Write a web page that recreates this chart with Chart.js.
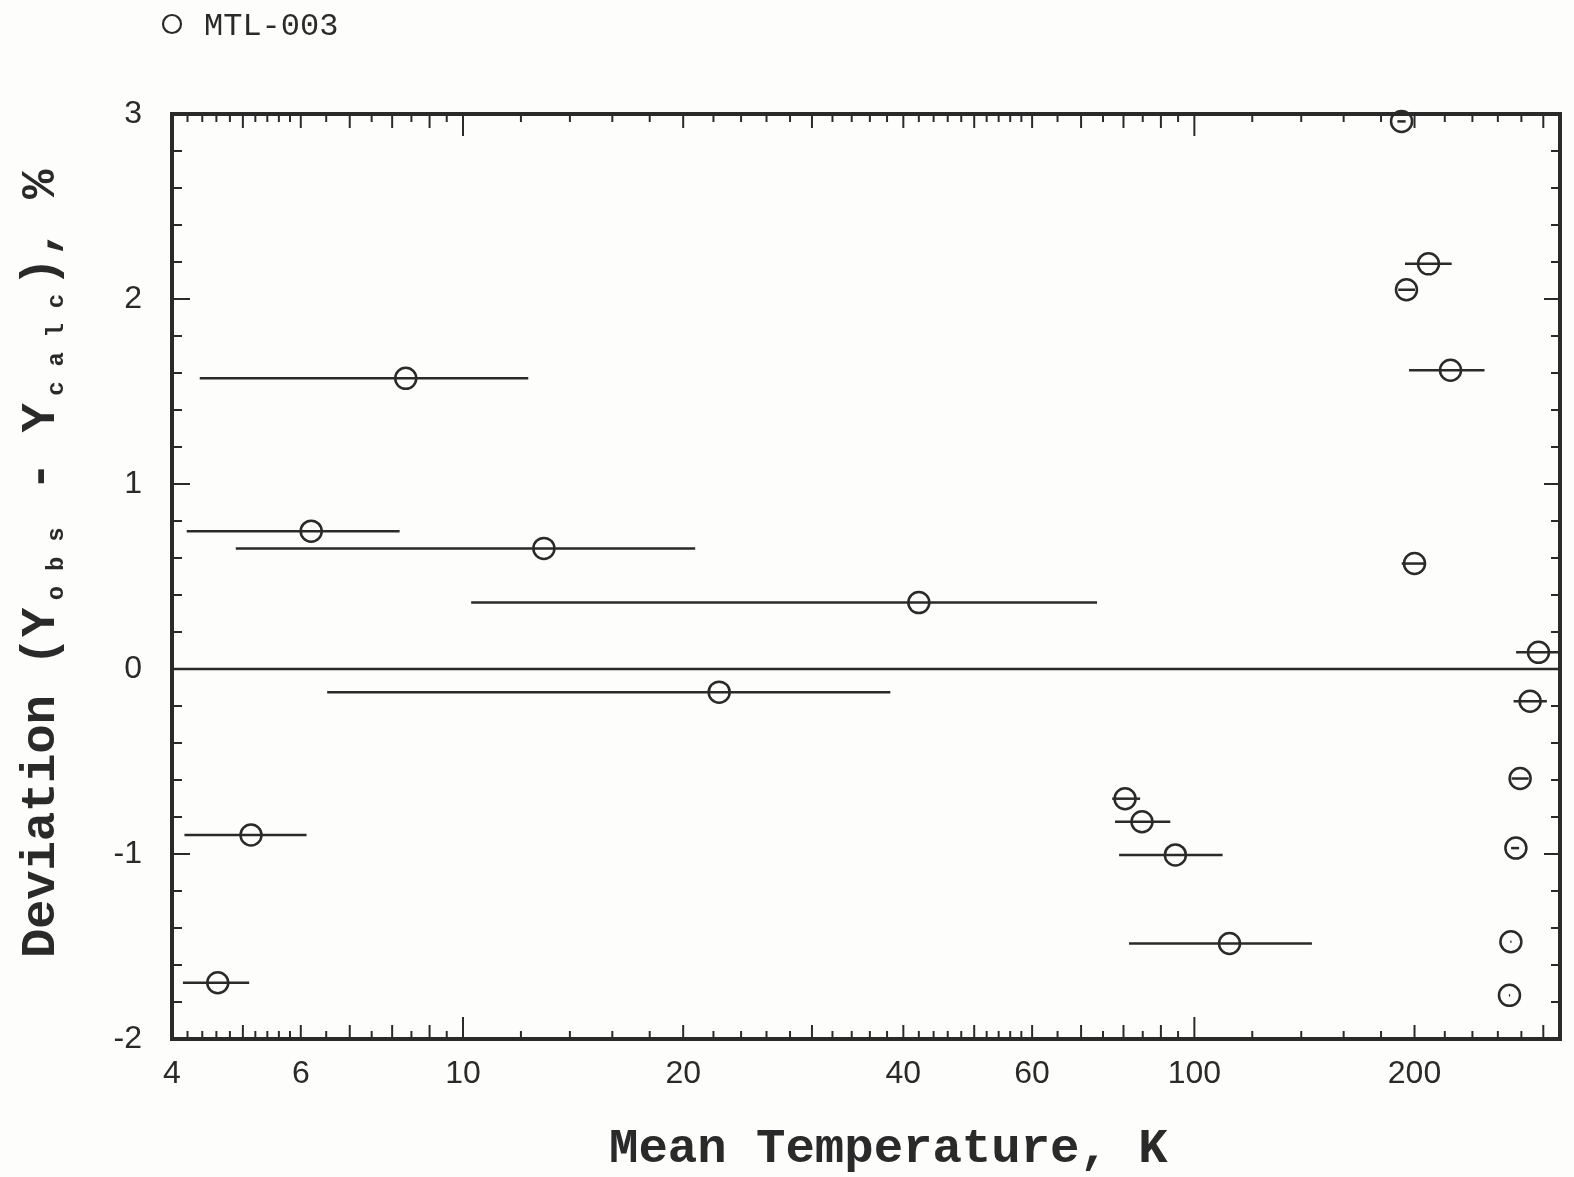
<!DOCTYPE html>
<html>
<head>
<meta charset="utf-8">
<script src="https://cdn.jsdelivr.net/npm/chart.js@4.4.0/dist/chart.umd.min.js"></script>
<style>
  html, body { margin: 0; padding: 0; background: #fdfdfb; }
  #wrap { width: 1574px; height: 1177px; }
</style>
</head>
<body>
<div id="wrap"><canvas id="myChart" width="1574" height="1177"></canvas></div>
<script>
// mean temperature of each run, K
var meanTemp  = [4.62, 5.13, 6.20, 8.35, 12.9, 22.4, 42.0, 80.4, 84.8, 94.2, 111.7,
                 192, 195, 209, 224, 200, 295.5, 287.8, 278.9, 275.2, 270.9, 269.7];
// temperature range of each run (low / high end), K
var tempLow   = [4.14, 4.16, 4.19, 4.365, 4.89, 6.52, 10.26, 77.2, 77.9, 78.9, 81.4,
                 189.5, 190.0, 194.1, 196.6, 192.1, 275.4, 273.2, 271.5, 271.1, 270.4, 269.2];
var tempHigh  = [5.10, 6.11, 8.19, 12.28, 20.77, 38.4, 73.6, 84.3, 92.7, 109.3, 144.8,
                 194.5, 200.3, 224.8, 249.3, 207.4, 330, 303.4, 286.5, 278.0, 271.4, 270.2];
// deviation (Yobs - Ycalc), %
var deviation = [-1.696, -0.897, 0.745, 1.571, 0.652, -0.125, 0.359, -0.701, -0.826, -1.005, -1.484,
                 2.96, 2.05, 2.19, 1.615, 0.57, 0.09, -0.174, -0.592, -0.968, -1.474, -1.764];

var xTickLabels = [4, 6, 10, 20, 40, 60, 100, 200];
var yTickLabels = [-2, -1, 0, 1, 2, 3];
var xMajorTicks = [10, 100];
var xMediumTicks = [5, 6, 7, 8, 9, 20, 30, 40, 50, 60, 70, 80, 90, 200, 300];
var xMinorTicks = [4.2, 4.4, 4.6, 4.8, 5.2, 5.4, 5.6, 5.8, 6.5, 7.5, 8.5, 9.5,
                   12, 14, 16, 18, 22, 24, 26, 28, 32, 34, 36, 38, 42, 44, 46, 48, 52, 54, 56, 58,
                   65, 75, 85, 95, 120, 140, 160, 180, 220, 240, 260, 280];

var ink = '#2a2a2a';

function line(ctx, x1, y1, x2, y2) {
    ctx.beginPath();
    ctx.moveTo(x1, y1);
    ctx.lineTo(x2, y2);
    ctx.stroke();
}

var framePlugin = {
    id: 'frame',
    beforeDatasetsDraw: function (chart) {
        var ctx = chart.ctx, a = chart.chartArea;
        var xs = chart.scales.x, ys = chart.scales.y;
        ctx.save();
        ctx.strokeStyle = ink;
        ctx.lineCap = 'butt';

        // zero line
        ctx.lineWidth = 2.5;
        var y0 = ys.getPixelForValue(0);
        line(ctx, a.left, y0, a.right, y0);

        // temperature range bars
        ctx.save();
        ctx.beginPath();
        ctx.rect(a.left, a.top, a.right - a.left, a.bottom - a.top);
        ctx.clip();
        ctx.lineWidth = 2.5;
        for (var i = 0; i < meanTemp.length; i++) {
            var yy = ys.getPixelForValue(deviation[i]);
            line(ctx, xs.getPixelForValue(tempLow[i]), yy, xs.getPixelForValue(tempHigh[i]), yy);
        }
        ctx.restore();

        // x ticks, top and bottom, pointing in
        ctx.lineWidth = 2;
        function xTicks(list, len) {
            list.forEach(function (v) {
                var px = xs.getPixelForValue(v);
                line(ctx, px, a.bottom, px, a.bottom - len);
                line(ctx, px, a.top, px, a.top + len);
            });
        }
        xTicks(xMinorTicks, 8);
        xTicks(xMediumTicks, 14);
        xTicks(xMajorTicks, 22);

        // y ticks every 0.2, left and right
        for (var k = -9; k < 15; k++) {
            var v = -2 + (k + 10) * 0.2;
            if (v <= -1.99 || v >= 2.99) continue;
            var py = ys.getPixelForValue(v);
            var major = Math.abs(v - Math.round(v)) < 0.01;
            line(ctx, a.left, py, a.left + (major ? 18 : 10), py);
            line(ctx, a.right, py, a.right - (major ? 16 : 9), py);
        }

        // frame
        ctx.lineWidth = 4;
        ctx.strokeRect(a.left, a.top, a.right - a.left, a.bottom - a.top);
        ctx.restore();
    },
    afterDraw: function (chart) {
        var ctx = chart.ctx;
        ctx.save();
        ctx.fillStyle = ink;
        ctx.strokeStyle = ink;

        // legend
        ctx.lineWidth = 2.2;
        ctx.beginPath();
        ctx.arc(172, 24, 9, 0, Math.PI * 2);
        ctx.stroke();
        ctx.font = '32px "Liberation Mono", monospace';
        ctx.textBaseline = 'alphabetic';
        ctx.textAlign = 'left';
        ctx.fillText(chart.data.datasets[0].label, 204, 35);

        // x title
        ctx.font = 'bold 49px "Liberation Mono", monospace';
        ctx.fillText('Mean Temperature, K', 609, 1162);

        // y title, one mono cell per character, subscripts small
        var parts = [['Deviation (Y', false], ['obs', true], [' - Y', false], ['calc', true], ['), %', false]];
        ctx.translate(54, 958);
        ctx.rotate(-Math.PI / 2);
        var cell = 29.2, pos = 0;
        parts.forEach(function (p) {
            for (var c = 0; c < p[0].length; c++) {
                var ch = p[0][c];
                ctx.textAlign = 'center';
                if (p[1]) {
                    ctx.font = 'bold 24px "Liberation Mono", monospace';
                    ctx.fillText(ch, pos + cell / 2, 9);
                } else {
                    ctx.font = 'bold 49px "Liberation Mono", monospace';
                    ctx.fillText(ch, pos + cell / 2, 0);
                }
                pos += cell;
            }
        });
        ctx.restore();
    }
};

var ctx = document.getElementById('myChart');
var chart = new Chart(ctx, {
    type: 'scatter',
    data: {
        datasets: [{
            label: 'MTL-003',
            data: meanTemp.map(function (t, i) { return { x: t, y: deviation[i] }; }),
            pointStyle: 'circle',
            pointRadius: 10.5,
            pointHoverRadius: 10.5,
            borderColor: ink,
            borderWidth: 2.5,
            backgroundColor: 'rgba(0,0,0,0)',
            clip: false
        }]
    },
    options: {
        responsive: false,
        animation: false,
        events: [],
        layout: { padding: { left: 0, top: 114, right: 14, bottom: 0 } },
        plugins: { legend: { display: false }, tooltip: { enabled: false } },
        scales: {
            x: {
                type: 'logarithmic',
                min: 4,
                max: 316.2,
                grid: { display: false, drawTicks: false },
                border: { display: false },
                afterBuildTicks: function (s) { s.ticks = xTickLabels.map(function (v) { return { value: v }; }); },
                afterFit: function (s) { s.height = 138; },
                ticks: {
                    autoSkip: false, maxRotation: 0, padding: 16, color: ink,
                    font: { family: 'Liberation Sans', size: 32 },
                    callback: function (v) { return String(v); }
                }
            },
            y: {
                min: -2,
                max: 3,
                grid: { display: false, drawTicks: false },
                border: { display: false },
                afterBuildTicks: function (s) { s.ticks = yTickLabels.map(function (v) { return { value: v }; }); },
                afterFit: function (s) { s.width = 172; },
                ticks: {
                    padding: 30, color: ink,
                    font: { family: 'Liberation Sans', size: 32 },
                    callback: function (v) { return String(v); }
                }
            }
        }
    },
    plugins: [framePlugin]
});
</script>
</body>
</html>
